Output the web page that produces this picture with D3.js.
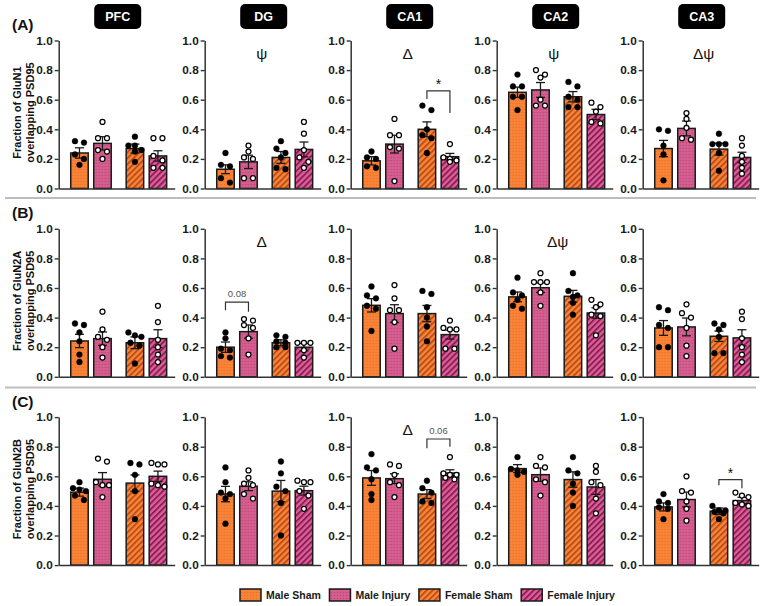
<!DOCTYPE html>
<html><head><meta charset="utf-8">
<script src="https://cdn.jsdelivr.net/npm/d3@7"></script>
<style>body{margin:0;background:#fff} svg{display:block;font-family:"Liberation Sans",Arial,sans-serif}</style>
</head><body>
<svg id="c" width="763" height="606"></svg>
<script>
const regions = ["PFC","DG","CA1","CA2","CA3"];
const categories = ["Male Sham","Male Injury","Female Sham","Female Injury"];
const rowLabels = ["(A)","(B)","(C)"];
const subunits = ["GluN1","GluN2A","GluN2B"];
const yTicks = [0,0.2,0.4,0.6,0.8,1.0];

// means per region (Male Sham, Male Injury, Female Sham, Female Injury)
const meansGluN1 = [[0.24,0.305,0.27,0.22],[0.13,0.18,0.21,0.264],[0.187,0.30,0.40,0.215],[0.65,0.666,0.62,0.50],[0.27,0.406,0.266,0.21]];
const semGluN1   = [[0.035,0.045,0.03,0.035],[0.03,0.045,0.04,0.05],[0.028,0.06,0.05,0.022],[0.035,0.05,0.035,0.035],[0.055,0.05,0.04,0.035]];
const meansGluN2A = [[0.242,0.258,0.23,0.258],[0.20,0.305,0.23,0.20],[0.483,0.427,0.427,0.285],[0.54,0.602,0.544,0.431],[0.33,0.337,0.274,0.263]];
const semGluN2A   = [[0.045,0.045,0.04,0.06],[0.035,0.045,0.02,0.025],[0.045,0.06,0.055,0.03],[0.033,0.032,0.04,0.035],[0.05,0.06,0.035,0.055]];
const meansGluN2B = [[0.493,0.58,0.554,0.60],[0.48,0.533,0.50,0.503],[0.589,0.584,0.48,0.622],[0.652,0.611,0.578,0.528],[0.393,0.443,0.364,0.436]];
const semGluN2B   = [[0.027,0.045,0.055,0.035],[0.052,0.03,0.072,0.03],[0.05,0.033,0.03,0.022],[0.027,0.045,0.052,0.05],[0.027,0.05,0.022,0.022]];

const pointsGluN1 = [
 [[0.32,0.31,0.23,0.20,0.16],[0.45,0.34,0.34,0.26,0.25,0.20],[0.35,0.29,0.29,0.26,0.25,0.18],[0.34,0.34,0.22,0.19,0.14,0.14]],
 [[0.24,0.16,0.15,0.07,0.04],[0.29,0.25,0.21,0.20,0.07,0.07],[0.32,0.27,0.24,0.21,0.14,0.13],[0.45,0.37,0.26,0.21,0.18,0.14]],
 [[0.25,0.21,0.20,0.15,0.14],[0.47,0.36,0.36,0.28,0.27,0.05],[0.56,0.53,0.40,0.36,0.34,0.24],[0.30,0.21,0.20,0.19,0.18]],
 [[0.77,0.69,0.69,0.62,0.62,0.53],[0.80,0.77,0.75,0.60,0.56,0.56],[0.72,0.69,0.62,0.60,0.55,0.55],[0.58,0.55,0.52,0.45,0.44]],
 [[0.40,0.39,0.29,0.23,0.055],[0.51,0.47,0.41,0.34,0.33],[0.37,0.30,0.30,0.30,0.24,0.12],[0.34,0.29,0.22,0.18,0.14,0.10]]
];
const pointsGluN2A = [
 [[0.36,0.35,0.30,0.24,0.15,0.10],[0.44,0.32,0.27,0.25,0.20,0.13],[0.30,0.28,0.27,0.23,0.21,0.09],[0.48,0.37,0.25,0.20,0.15,0.10]],
 [[0.30,0.26,0.19,0.18,0.14,0.13],[0.39,0.38,0.35,0.33,0.26,0.15],[0.28,0.27,0.24,0.23,0.20,0.20],[0.23,0.23,0.23,0.18,0.13]],
 [[0.61,0.55,0.53,0.48,0.46,0.31],[0.62,0.53,0.45,0.45,0.37,0.19],[0.58,0.56,0.47,0.40,0.34,0.24],[0.38,0.33,0.32,0.32,0.19,0.19]],
 [[0.67,0.57,0.55,0.52,0.48,0.46],[0.70,0.64,0.64,0.64,0.57,0.48],[0.70,0.58,0.55,0.54,0.50,0.42],[0.52,0.49,0.47,0.42,0.41,0.28]],
 [[0.47,0.45,0.35,0.33,0.20,0.20],[0.49,0.43,0.40,0.33,0.21,0.14],[0.36,0.35,0.32,0.27,0.16,0.16],[0.44,0.39,0.26,0.20,0.15,0.10]]
];
const pointsGluN2B = [
 [[0.56,0.52,0.51,0.50,0.47,0.44],[0.72,0.70,0.56,0.54,0.54,0.46],[0.69,0.68,0.61,0.50,0.31],[0.69,0.68,0.68,0.55,0.54,0.53]],
 [[0.66,0.56,0.49,0.48,0.45,0.28],[0.64,0.59,0.55,0.54,0.48,0.45],[0.70,0.62,0.53,0.50,0.42,0.20],[0.57,0.56,0.56,0.50,0.47,0.38]],
 [[0.75,0.66,0.64,0.58,0.48,0.44],[0.68,0.67,0.61,0.56,0.54,0.46],[0.57,0.52,0.49,0.43,0.42],[0.73,0.62,0.61,0.61,0.59,0.58]],
 [[0.73,0.65,0.64,0.63,0.61],[0.73,0.67,0.66,0.58,0.56,0.47],[0.73,0.64,0.62,0.55,0.49,0.40],[0.67,0.63,0.56,0.54,0.45,0.35]],
 [[0.48,0.43,0.42,0.39,0.38,0.31],[0.60,0.50,0.49,0.43,0.38,0.30],[0.40,0.37,0.37,0.36,0.35,0.31],[0.49,0.47,0.46,0.42,0.41,0.40]]
];

const effectSymbols = [["","ψ","Δ","ψ","Δψ"],["","Δ","","Δψ",""],["","","Δ","",""]];
// comparison brackets: row, region index, bar indices, bracket level, leg ends, label
const brackets = [
 {row:0, col:2, a:2, b:3, level:0.66, legA:0.605, legB:0.51, label:"*"},
 {row:1, col:1, a:0, b:1, level:0.505, legA:0.45, legB:0.44, label:"0.08"},
 {row:2, col:2, a:2, b:3, level:0.852, legA:0.79, legB:0.80, label:"0.06"},
 {row:2, col:4, a:2, b:3, level:0.578, legA:0.54, legB:0.52, label:"*"}
];

const rows = [
 {means:meansGluN1, sem:semGluN1, pts:pointsGluN1},
 {means:meansGluN2A, sem:semGluN2A, pts:pointsGluN2A},
 {means:meansGluN2B, sem:semGluN2B, pts:pointsGluN2B}
];

const svg = d3.select("#c");
const defs = svg.append("defs");
function dotPattern(id, base, dot){
  const p = defs.append("pattern").attr("id",id).attr("patternUnits","userSpaceOnUse").attr("width",3).attr("height",3);
  p.append("rect").attr("width",3).attr("height",3).attr("fill",base);
  p.append("circle").attr("cx",1.5).attr("cy",1.5).attr("r",0.75).attr("fill",dot);
}
function stripePattern(id, base, stripe){
  const p = defs.append("pattern").attr("id",id).attr("patternUnits","userSpaceOnUse").attr("width",4.2).attr("height",4.2).attr("patternTransform","rotate(45)");
  p.append("rect").attr("width",4.2).attr("height",4.2).attr("fill",base);
  p.append("rect").attr("width",1.9).attr("height",4.2).attr("fill",stripe);
}
dotPattern("pMS","#F8843A","#EE6F22");
dotPattern("pMI","#D65E90","#BE4579");
stripePattern("pFS","#F8863A","#BF4E16");
stripePattern("pFI","#D7619A","#921C52");
const fills = ["url(#pMS)","url(#pMI)","url(#pFS)","url(#pFI)"];

const col = d3.scaleBand().domain(regions).range([58.7, 58.7 + 146*5]);
const rowTop = d3.scaleLinear().domain([0,1]).range([40.5, 228.8]);
const plotH = 148;
const plotW = 116;
const sex = d3.scaleBand().domain(["Male","Female"]).range([0,120]).paddingInner(0.27).paddingOuter(0.217);
const cond = d3.scaleBand().domain(["Sham","Injury"]).range([0, sex.bandwidth()]).paddingInner(0.24).paddingOuter(0);
const barX = i => sex(i<2?"Male":"Female") + cond(i%2===0?"Sham":"Injury");
const bw = cond.bandwidth();

function swarm(vals, y){
  const sorted = vals.map(v=>({v, py:y(v)})).sort((a,b)=>a.py-b.py);
  const out=[]; let cl=[];
  const flush=()=>{const n=cl.length, s=n===2?9:6.5; cl.forEach((d,k)=>out.push({v:d.v, dx:(k-(n-1)/2)*s})); cl=[];};
  sorted.forEach(d=>{ if(cl.length && (d.py-cl[0].py>5.5 || cl.length>=3)) flush(); cl.push(d); });
  flush();
  return out;
}

rows.forEach((row, ri)=>{
  const top = rowTop(ri), bottom = top + plotH;
  const y = d3.scaleLinear().domain([0,1]).range([bottom, top]);
  if(ri<2){
    const yy = bottom + 9.5 + ri*1.2;
    svg.append("line").attr("x1",5).attr("x2",756).attr("y1",yy).attr("y2",yy).attr("stroke","#bdbdbd").attr("stroke-width",2);
  }
  svg.append("text").attr("x",12).attr("y",top-10.5).attr("font-size",15.5).attr("font-weight","bold").attr("fill","#111").text(rowLabels[ri]);
  const cy = (top+bottom)/2 - 2;
  const yt = svg.append("text").attr("transform",`translate(0,${cy}) rotate(-90)`).attr("text-anchor","middle").attr("font-size",11).attr("font-weight","bold").attr("fill","#111");
  yt.append("tspan").attr("x",0).attr("y",20.5).text(`Fraction of ${subunits[ri]}`);
  yt.append("tspan").attr("x",0).attr("y",33.8).text("overlapping PSD95");

  regions.forEach((reg, ci)=>{
    const x0 = col(reg);
    const g = svg.append("g").attr("transform",`translate(${x0},0)`);
    if(ri===0){
      g.append("rect").attr("x",59-23.5).attr("y",4).attr("width",47).attr("height",25).attr("rx",5).attr("fill","#000");
      g.append("text").attr("x",59).attr("y",21).attr("text-anchor","middle").attr("font-size",12.5).attr("font-weight","bold").attr("fill","#fff").text(reg);
    }
    const means = row.means[ci], sems = row.sem[ci];
    g.selectAll("rect.bar").data(means).join("rect").attr("class","bar")
      .attr("x",(d,i)=>barX(i)).attr("width",bw).attr("y",d=>y(d)).attr("height",d=>y(0)-y(d))
      .attr("fill",(d,i)=>fills[i]).attr("stroke","#1a1a1a").attr("stroke-width",1.5);
    means.forEach((m,i)=>{
      const cx = barX(i)+bw/2, e = sems[i];
      const eg = g.append("g").attr("stroke","#1a1a1a").attr("stroke-width",1.3);
      eg.append("line").attr("x1",cx).attr("x2",cx).attr("y1",y(m-e)).attr("y2",y(m+e));
      eg.append("line").attr("x1",cx-4.5).attr("x2",cx+4.5).attr("y1",y(m+e)).attr("y2",y(m+e));
      eg.append("line").attr("x1",cx-4.5).attr("x2",cx+4.5).attr("y1",y(m-e)).attr("y2",y(m-e));
    });
    row.pts[ci].forEach((vals,i)=>{
      const cx = barX(i)+bw/2;
      const sw = swarm(vals, y);
      g.selectAll(null).data(sw).join("circle")
        .attr("cx",d=>cx+d.dx).attr("cy",d=>y(d.v))
        .attr("r", i%2===0?2.9:2.5)
        .attr("fill", i%2===0?"#000":"#fff").attr("stroke","#000").attr("stroke-width", i%2===0?0.4:1.25);
    });
    const ax = g.append("g")
      .call(d3.axisLeft(y).tickValues(yTicks).tickFormat(d3.format(".1f")).tickSize(4).tickSizeOuter(0).tickPadding(2));
    ax.select(".domain").attr("stroke","#333").attr("stroke-width",1.5);
    ax.selectAll(".tick line").attr("stroke","#333").attr("stroke-width",1.4);
    ax.selectAll(".tick text").attr("font-size",11.8).attr("font-weight","bold").attr("fill","#1a1a1a").attr("font-family","Liberation Sans, Arial, sans-serif");
    const xb = d3.scaleLinear().domain([0,1]).range([0,plotW]);
    const axb = g.append("g").attr("transform",`translate(0,${bottom})`).call(d3.axisBottom(xb).tickValues([]).tickSizeOuter(0));
    axb.select(".domain").attr("stroke","#333").attr("stroke-width",1.5);
    const sym = effectSymbols[ri][ci];
    if(sym){
      g.append("text").attr("x", sym.length>1?61:57).attr("y", y(0.915)+5.5).attr("text-anchor","middle").attr("font-size",15.5).attr("fill","#111").text(sym);
    }
  });
  brackets.filter(b=>b.row===ri).forEach(b=>{
    const x0 = col(regions[b.col]);
    const xa = x0 + barX(b.a) + bw/2, xbb = x0 + barX(b.b) + bw/2;
    svg.append("path").attr("d",`M${xa},${y(b.legA)}V${y(b.level)}H${xbb}V${y(b.legB)}`).attr("fill","none").attr("stroke","#333").attr("stroke-width",1.2);
    const star = b.label==="*";
    svg.append("text").attr("x",(xa+xbb)/2).attr("y", star? y(b.level)-1.5 : y(b.level)-5).attr("text-anchor","middle")
      .attr("font-size", star?14:9.5).attr("fill", star?"#111":"#555").text(b.label);
  });
});

let lx = 240;
const lg = svg.append("g");
categories.forEach((c,i)=>{
  lg.append("rect").attr("x",lx).attr("y",589).attr("width",21).attr("height",12).attr("fill",fills[i]).attr("stroke","#1a1a1a").attr("stroke-width",1.5);
  const t = lg.append("text").attr("x",lx+26).attr("y",599).attr("font-size",10.5).attr("font-weight","bold").attr("fill","#1a1a1a").text(c);
  lx += 26 + t.node().getComputedTextLength() + 8.6;
});
</script>
</body></html>
